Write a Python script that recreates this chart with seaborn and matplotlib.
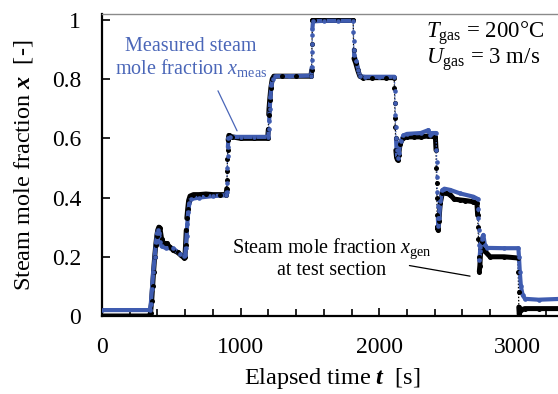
import numpy as np
import pandas as pd
import matplotlib
matplotlib.use("Agg")
import matplotlib.pyplot as plt
import seaborn as sns

# ---------------- data ----------------
t_gen = [0, 340, 350, 358, 365, 372, 380, 388, 395, 402, 410, 418,
         430, 445, 467, 490, 515, 545, 570, 590, 598,
         603, 608, 612, 618, 625, 635, 660, 700, 750, 800, 850, 895,
         900, 902, 903, 905, 907, 910, 915, 940, 1000, 1100, 1195,
         1200, 1203, 1205, 1210, 1218, 1228, 1240, 1300, 1400, 1508,
         1512, 1515, 1518, 1530, 1600, 1700, 1812,
         1815, 1818, 1830, 1845, 1860, 1880, 1950, 2050, 2108,
         2110, 2112, 2114, 2116, 2118, 2120, 2125, 2132, 2140, 2150, 2170, 2198, 2250, 2300, 2350, 2405,
         2410, 2412, 2414, 2416, 2418, 2420, 2424, 2430, 2440, 2455, 2480, 2511, 2540, 2583, 2620, 2679, 2705,
         2710, 2713, 2716, 2719, 2722, 2726, 2732, 2745, 2760, 2800, 2900, 3000,
         3003, 3005, 3007, 3010, 3020, 3050, 3150, 3320]
x_gen = [0.0, 0.0, 0.01, 0.05, 0.10, 0.15, 0.20, 0.24, 0.27, 0.29, 0.30, 0.296,
         0.26, 0.245, 0.245, 0.232, 0.222, 0.215, 0.205, 0.197, 0.20,
         0.24, 0.29, 0.33, 0.36, 0.39, 0.405, 0.41, 0.41, 0.412, 0.41, 0.41, 0.41,
         0.43, 0.46, 0.49, 0.53, 0.56, 0.595, 0.61, 0.605, 0.60, 0.60, 0.60,
         0.63, 0.68, 0.70, 0.73, 0.77, 0.80, 0.81, 0.81, 0.81, 0.81,
         0.83, 0.92, 1.0, 1.0, 1.0, 1.0, 1.0,
         0.90, 0.87, 0.855, 0.83, 0.81, 0.805, 0.805, 0.805, 0.805,
         0.77, 0.72, 0.67, 0.64, 0.60, 0.56, 0.535, 0.527, 0.545, 0.58, 0.60, 0.605, 0.605, 0.605, 0.608, 0.605,
         0.56, 0.50, 0.45, 0.40, 0.34, 0.30, 0.29, 0.32, 0.38, 0.415, 0.415, 0.41, 0.395, 0.392, 0.39, 0.386, 0.38,
         0.34, 0.30, 0.26, 0.20, 0.15, 0.17, 0.22, 0.25, 0.22, 0.20, 0.20, 0.196,
         0.15, 0.08, 0.03, 0.005, 0.02, 0.025, 0.025, 0.025]

t_meas = [0, 345, 352, 360, 370, 380, 390, 398, 405, 412, 420, 430, 460, 515, 560, 590, 600,
          605, 610, 615, 622, 630, 640, 700, 800, 895,
          900, 902, 904, 906, 908, 912, 920, 1000, 1100, 1200,
          1203, 1206, 1210, 1215, 1222, 1232, 1245, 1350, 1510,
          1513, 1514, 1515, 1516, 1517, 1518, 1522, 1600, 1700, 1812,
          1814, 1815, 1817, 1820, 1835, 1850, 1862, 1900, 2000, 2110,
          2112, 2114, 2116, 2118, 2121, 2125, 2132, 2140, 2155, 2175, 2200, 2300, 2355, 2365, 2380, 2410,
          2413, 2415, 2417, 2419, 2421, 2423, 2426, 2432, 2442, 2455, 2470, 2511, 2583, 2679, 2712,
          2714, 2716, 2718, 2720, 2723, 2728, 2738, 2751, 2762, 2780, 2900, 3004,
          3008, 3014, 3022, 3035, 3052, 3150, 3320]
x_meas = [0.02, 0.02, 0.04, 0.09, 0.15, 0.20, 0.25, 0.28, 0.29, 0.28, 0.25, 0.235, 0.23, 0.228, 0.21, 0.203, 0.205,
          0.23, 0.27, 0.31, 0.35, 0.38, 0.395, 0.40, 0.405, 0.408,
          0.42, 0.45, 0.50, 0.54, 0.57, 0.60, 0.605, 0.605, 0.605, 0.605,
          0.63, 0.66, 0.70, 0.74, 0.78, 0.80, 0.81, 0.81, 0.812,
          0.84, 0.865, 0.89, 0.92, 0.95, 0.97, 0.995, 0.997, 0.997, 0.997,
          0.96, 0.93, 0.90, 0.88, 0.86, 0.83, 0.81, 0.808, 0.808, 0.808,
          0.76, 0.72, 0.68, 0.64, 0.60, 0.56, 0.535, 0.55, 0.59, 0.61, 0.615, 0.618, 0.628, 0.61, 0.618, 0.618,
          0.56, 0.52, 0.47, 0.42, 0.37, 0.33, 0.305, 0.33, 0.39, 0.425, 0.43, 0.426, 0.414, 0.403, 0.395,
          0.36, 0.33, 0.29, 0.24, 0.19, 0.22, 0.26, 0.274, 0.24, 0.23, 0.229, 0.229,
          0.20, 0.15, 0.10, 0.07, 0.058, 0.055, 0.058]

x_ticks = [0, 1000, 2000, 3000]
y_ticks = [0, 0.2, 0.4, 0.6, 0.8, 1.0]
y_ticklabels = ["0", "0.2", "0.4", "0.6", "0.8", "1"]

# ---------------- style ----------------
sns.set_style("ticks")
plt.rcParams["font.family"] = ["Liberation Serif", "DejaVu Serif"]
plt.rcParams["mathtext.fontset"] = "custom"
plt.rcParams["mathtext.rm"] = "Liberation Serif"
plt.rcParams["mathtext.it"] = "Liberation Serif:italic"
plt.rcParams["mathtext.bf"] = "Liberation Serif:bold:italic"
plt.rcParams["text.color"] = "black"
plt.rcParams["axes.labelcolor"] = "black"
plt.rcParams["xtick.color"] = "black"
plt.rcParams["ytick.color"] = "black"
plt.rcParams["xtick.labelcolor"] = "black"
plt.rcParams["ytick.labelcolor"] = "black"

BLACK = "#000000"
BLUE = "#3F5CB0"
BLUE_TXT = "#4A66B8"

fig = plt.figure(figsize=(5.58, 3.94), dpi=100)
ax = fig.add_axes([102 / 558, 78 / 394, 460.2 / 558, 302 / 394])


def thick_runs(t, x, thr=0.01):
    rows = []
    run = 0
    active = False
    for i in range(len(t) - 1):
        slope = abs(x[i + 1] - x[i]) / max(t[i + 1] - t[i], 1e-9)
        if slope < thr:
            if not active:
                run += 1
                rows.append((t[i], x[i], run))
                active = True
            rows.append((t[i + 1], x[i + 1], run))
        else:
            active = False
    return pd.DataFrame(rows, columns=["t", "x", "run"])


def draw_series(t, x, color, lw, ms):
    df = pd.DataFrame({"t": t, "x": x})
    sns.lineplot(data=df, x="t", y="x", estimator=None, sort=False, color=color,
                 lw=0.9, ls=(0, (1.2, 1.4)), ax=ax)
    runs = thick_runs(t, x)
    sns.lineplot(data=runs, x="t", y="x", units="run", estimator=None, sort=False,
                 color=color, lw=lw, ax=ax, solid_capstyle="round", solid_joinstyle="round")
    sns.scatterplot(data=df, x="t", y="x", color=color, s=ms, linewidth=0, ax=ax, zorder=3)


draw_series(t_gen, x_gen, BLACK, 3.6, 13)
draw_series(t_meas, x_meas, BLUE, 3.0, 11)

ax.set_xlim(0, 3320)
ax.set_ylim(0, 1.02)
ax.set_xticks(x_ticks)
ax.set_xticks(np.arange(0, 3320, 200), minor=True)
ax.set_yticks(y_ticks)
ax.set_yticklabels(y_ticklabels)

ax.tick_params(axis="both", which="both", direction="in", width=1.2, colors="black")
ax.tick_params(axis="x", which="major", length=6, pad=15, labelsize=17)
ax.tick_params(axis="x", which="minor", length=5)
ax.tick_params(axis="y", which="major", length=6, pad=15, labelsize=17)
ax.tick_params(top=False, right=False)

for s in ["left", "bottom"]:
    ax.spines[s].set_linewidth(1.6)
    ax.spines[s].set_color("black")
ax.spines["top"].set_visible(True)
ax.spines["top"].set_color("#8a8a8a")
ax.spines["top"].set_linewidth(1.0)
ax.spines["right"].set_visible(False)

ax.set_xlabel(r"Elapsed time $\mathbf{t}$  [s]", fontsize=17.5, labelpad=6)
ax.set_ylabel(r"Steam mole fraction $\mathbf{x}$  [-]", fontsize=17.5, labelpad=12)

ax.text(640, 0.87, "Measured steam\nmole fraction $x_{\\mathrm{meas}}$", color=BLUE_TXT,
        fontsize=14.5, ha="center", va="center", linespacing=1.05)
ax.text(1659, 0.195, "Steam mole fraction $x_{\\mathrm{gen}}$\nat test section", color="black",
        fontsize=14.5, ha="center", va="center", linespacing=1.05)
ax.text(2335, 0.955, "$T_{\\mathrm{gas}}$ = 200°C", fontsize=16.5, ha="left", va="center")
ax.text(2335, 0.865, "$U_{\\mathrm{gas}}$ = 3 m/s", fontsize=16.5, ha="left", va="center")

ax.annotate("", xy=(983, 0.617), xytext=(828, 0.769),
            arrowprops=dict(arrowstyle="-", color=BLUE_TXT, lw=0.9))
ax.annotate("", xy=(2675, 0.133), xytext=(2198, 0.172),
            arrowprops=dict(arrowstyle="-", color="black", lw=0.9))

fig.savefig("out.png", dpi=100)
